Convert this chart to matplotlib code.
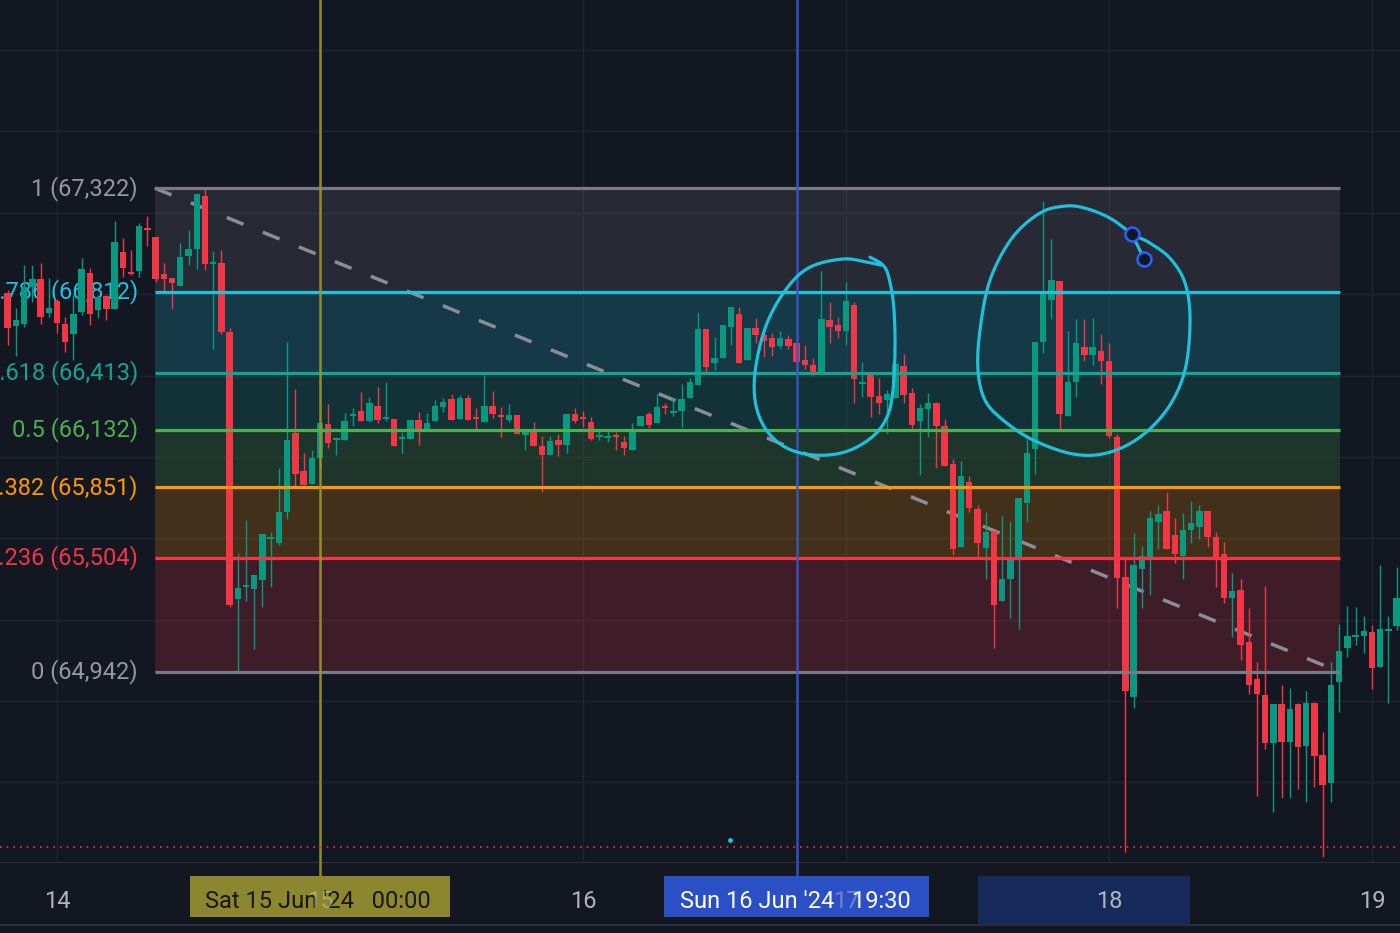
import matplotlib.pyplot as plt
import matplotlib.transforms as mtransforms
from matplotlib.patches import Rectangle
import numpy as np

plt.rcParams['font.family'] = ['Roboto', 'DejaVu Sans']

# 45 min candles, index 0 = Fri 14 Jun 00:00 (32 candles per day)
start_idx = -6
opens = [66805, 66643, 66653, 66835, 66874, 66707, 66766, 66653, 66604, 66712,
         66903, 66722, 66791, 66727, 67007, 66908, 66913, 67120, 67081, 66899,
         66879, 66840, 66988, 67022, 67282, 66948, 66953, 66614, 65301, 65360,
         65350, 65395, 65596, 65576, 65729, 66117, 65930, 65866, 65994, 66161,
         66083, 66083, 66201, 66225, 66176, 66250, 66186, 66186, 66088, 66088,
         66181, 66137, 66176, 66245, 66284, 66186, 66289, 66191, 66171, 66250,
         66201, 66181, 66206, 66107, 66127, 66053, 66009, 66083, 66058, 66211,
         66191, 66171, 66098, 66093, 66102, 66073, 66034, 66151, 66211, 66166,
         66250, 66215, 66225, 66289, 66353, 66629, 66462, 66486, 66638, 66702,
         66476, 66634, 66599, 66584, 66545, 66579, 66560, 66476, 66451, 66412,
         66673, 66648, 66619, 66746, 66358, 66412, 66299, 66279, 66289, 66446,
         66314, 66176, 66235, 66265, 66151, 65965, 65557, 65876, 65744, 65552,
         65635, 65291, 65400, 65503, 65773, 66039, 66564, 66771, 66864, 66201,
         66368, 66540, 66500, 66520, 66471, 66098, 65409, 64819, 65449, 65498,
         65680, 65734, 65616, 65513, 65640, 65655, 65734, 65606, 65522, 65306,
         65345, 65090, 64908, 64829, 64593, 64785, 64598, 64785, 64579, 64790,
         64534, 64396, 64893, 65060, 65114, 65119, 65139, 64967, 65144, 65168]
highs = [66820, 66732, 66943, 66943, 66953, 66879, 66776, 66688, 66795, 66978,
         66928, 66795, 66795, 67159, 67076, 67017, 67149, 67184, 67081, 66953,
         66879, 67051, 67115, 67292, 67322, 67012, 67017, 66634, 65527, 65690,
         65419, 65620, 65630, 65945, 66564, 66334, 66019, 66034, 66166, 66260,
         66098, 66215, 66240, 66319, 66294, 66344, 66368, 66186, 66122, 66181,
         66220, 66215, 66279, 66289, 66309, 66304, 66304, 66240, 66402, 66324,
         66245, 66260, 66206, 66132, 66171, 66102, 66102, 66112, 66211, 66240,
         66225, 66196, 66137, 66137, 66122, 66102, 66166, 66201, 66220, 66309,
         66265, 66289, 66358, 66388, 66712, 66629, 66589, 66648, 66736, 66736,
         66634, 66683, 66609, 66609, 66619, 66599, 66560, 66550, 66486, 66913,
         66761, 66688, 66859, 66761, 66466, 66412, 66388, 66329, 66456, 66505,
         66339, 66260, 66314, 66270, 66186, 65990, 65980, 65906, 65764, 65729,
         65635, 65710, 65685, 65798, 66088, 66564, 67258, 67071, 66864, 66619,
         66678, 66678, 66683, 66604, 66560, 66112, 65513, 65625, 65562, 65734,
         65764, 65827, 65700, 65724, 65783, 65764, 65734, 65630, 65581, 65429,
         65400, 65257, 64991, 65365, 64785, 64878, 64864, 64790, 64849, 64795,
         64647, 64991, 65178, 65267, 65262, 65218, 65173, 65468, 65218, 65458]
lows = [66549, 66495, 66639, 66761, 66653, 66688, 66609, 66515, 66476, 66697,
        66648, 66683, 66673, 66727, 66884, 66894, 66884, 67036, 66859, 66805,
        66727, 66840, 66943, 66923, 66918, 66530, 66604, 65262, 64942, 65291,
        65055, 65262, 65360, 65567, 65695, 65857, 65861, 65866, 65935, 66044,
        66009, 66083, 66151, 66176, 66171, 66166, 66176, 66053, 66019, 66088,
        66058, 66137, 66176, 66220, 66181, 66186, 66181, 66132, 66171, 66191,
        66098, 66171, 66112, 66034, 66053, 65827, 66009, 66004, 66019, 66166,
        66147, 66083, 66083, 66073, 66034, 66009, 66034, 66151, 66142, 66166,
        66211, 66201, 66147, 66289, 66353, 66417, 66427, 66486, 66549, 66462,
        66476, 66560, 66490, 66495, 66530, 66530, 66407, 66432, 66397, 66412,
        66560, 66584, 66549, 66265, 66294, 66196, 66211, 66117, 66289, 66265,
        66132, 65911, 66098, 65945, 65955, 65517, 65557, 65729, 65503, 65400,
        65060, 65291, 65208, 65154, 65680, 65916, 66510, 66678, 66137, 66201,
        66294, 66471, 66451, 66358, 66093, 65257, 64057, 64765, 65257, 65321,
        65547, 65547, 65478, 65400, 65576, 65596, 65557, 65360, 65281, 65114,
        65001, 64834, 64332, 64564, 64254, 64323, 64323, 64367, 64303, 64377,
        64033, 64303, 64745, 65016, 65075, 65035, 64859, 64967, 64790, 65149]
closes = [66634, 66673, 66835, 66874, 66688, 66732, 66658, 66564, 66702, 66923,
          66702, 66786, 66727, 67056, 66928, 66899, 67135, 67115, 66874, 66874,
          66854, 66983, 67022, 67292, 66948, 66953, 66614, 65272, 65355, 65370,
          65419, 65620, 65606, 65729, 66083, 65916, 65861, 65994, 66166, 66068,
          66093, 66176, 66211, 66176, 66265, 66181, 66191, 66053, 66098, 66181,
          66122, 66166, 66250, 66270, 66181, 66289, 66181, 66186, 66250, 66211,
          66196, 66206, 66112, 66132, 66053, 66009, 66078, 66058, 66211, 66176,
          66186, 66088, 66102, 66098, 66098, 66044, 66137, 66201, 66156, 66245,
          66240, 66225, 66284, 66368, 66629, 66442, 66486, 66648, 66736, 66462,
          66634, 66599, 66569, 66540, 66584, 66545, 66466, 66451, 66412, 66678,
          66639, 66619, 66766, 66383, 66368, 66294, 66265, 66309, 66456, 66304,
          66156, 66240, 66265, 66151, 65955, 65547, 65906, 65749, 65576, 65630,
          65272, 65400, 65503, 65798, 66019, 66564, 66800, 66869, 66211, 66368,
          66560, 66500, 66540, 66471, 66102, 65404, 64849, 65468, 65513, 65700,
          65719, 65547, 65522, 65640, 65675, 65734, 65606, 65503, 65306, 65340,
          65075, 64878, 64834, 64593, 64785, 64598, 64760, 64574, 64790, 64529,
          64386, 64878, 65045, 65119, 65119, 65144, 64962, 65154, 65149, 65306]

# fib retracement drawing
fib_high = 67321.6
fib_low = 64942.4
fib_start, fib_end = 11.9, 156.1
fib_levels = [1, 0.786, 0.618, 0.5, 0.382, 0.236, 0]
fib_colors = ['#787b86', '#1ec3dc', '#17a38f', '#4caf50', '#ff9800', '#f23645', '#787b86']

# time axis
day_labels = ['14', '15', '16', '17', '18', '19']
day_idx = [0, 32, 64, 96, 128, 160]
marker_idx = [32, 90]
marker_text = ["Sat 15 Jun '24   00:00", "Sun 16 Jun '24   19:30"]

low_line = 64081
dot_x, dot_y = 81.9, 64116

# hand drawn circles (candle index, price)
circ1_x = [98.92, 100.62, 101.35, 101.84, 101.96, 101.72, 100.99, 99.16, 95.88, 91.98,
           88.58, 86.14, 84.93, 85.05, 86.39, 88.82, 91.62, 95.64, 98.44, 100.26]
circ1_y = [66982, 66938, 66859, 66722, 66525, 66329, 66196, 66097, 66024, 66009,
           66048, 66142, 66279, 66451, 66658, 66830, 66933, 66973, 66958, 66943]
circ2_x = [130.80, 128.12, 125.08, 122.65, 119.61, 116.20, 113.52, 112.30, 112.06, 112.91,
           115.10, 118.75, 123.62, 127.76, 131.77, 135.18, 137.25, 137.86, 137.25, 135.42,
           132.99, 131.77]
circ2_y = [67095, 67174, 67223, 67233, 67199, 67076, 66869, 66623, 66427, 66279,
           66181, 66083, 66014, 66019, 66097, 66240, 66427, 66673, 66855, 66977,
           67051, 67076]
handle_x = [130.80, 132.26]
handle_y = [67095, 66973]


def catmull(xs, ys, n=16):
    p = np.column_stack([xs, ys]).astype(float)
    p = np.vstack([p[0], p, p[-1]])
    out = []
    t = np.linspace(0, 1, n, endpoint=False)[:, None]
    for k in range(1, len(p) - 2):
        p0, p1, p2, p3 = p[k - 1], p[k], p[k + 1], p[k + 2]
        out.append(0.5 * (2 * p1 + (-p0 + p2) * t + (2 * p0 - 5 * p1 + 4 * p2 - p3) * t ** 2
                          + (-p0 + 3 * p1 - 3 * p2 + p3) * t ** 3))
    out.append(p[-2][None])
    pts = np.vstack(out)
    return pts[:, 0], pts[:, 1]


bg = '#131722'
up, down = '#089981', '#f23645'

fig = plt.figure(figsize=(14, 9.33), dpi=100)
fig.patch.set_facecolor(bg)
ax = fig.add_axes([0, 1 - 862 / 933, 1, 862 / 933])
ax.set_facecolor(bg)
for s in ax.spines.values():
    s.set_visible(False)
ax.spines['bottom'].set_visible(True)
ax.spines['bottom'].set_color('#2a2e39')
ax.set_yticks(np.arange(64000, 68401, 400))
ax.set_xticks(day_idx)
ax.grid(color='#1f232e', lw=1, zorder=0)
ax.tick_params(length=0, labelbottom=False, labelleft=False)
ax.set_axisbelow(True)

# fib zones, lines and labels
fib_prices = [fib_low + l * (fib_high - fib_low) for l in fib_levels]
for k in range(len(fib_levels) - 1):
    ax.fill_between([fib_start, fib_end], fib_prices[k + 1], fib_prices[k],
                    color=fib_colors[k], alpha=0.2, lw=0, zorder=1)
for l, p, c in zip(fib_levels, fib_prices, fib_colors):
    ax.plot([fib_start, fib_end], [p, p], color=c, lw=2.3, zorder=4, solid_capstyle='butt')
    ax.text(fib_start - 2.06, p, f"{l:g} ({round(p):,})", color=c if c != '#787b86' else '#9598a1',
            fontsize=17, ha='right', va='center', zorder=1.5)

ax.plot([fib_start, fib_end], [fib_high, fib_low], color='#8a8d96', lw=2.5,
        dashes=(5.2, 6.0), zorder=2)

# candles
idx = np.arange(start_idx, start_idx + len(opens))
o = np.array(opens); h = np.array(highs); l = np.array(lows); c = np.array(closes)
cols = np.where(c >= o, up, down)
ax.vlines(idx, l, h, colors=cols, lw=1.0, zorder=3)
body = np.maximum(np.abs(c - o), 8)
ax.bar(idx, body, bottom=np.minimum(o, c), width=0.78, color=cols, lw=0, zorder=3.1)

# crosshair-style vertical lines and time axis
bt = mtransforms.blended_transform_factory(ax.transData, fig.transFigure)
vline_cols = ['#9c962e', '#3557cf']
box_cols = ['#8c862f', '#2b50c6']
txt_cols = ['#15160c', 'white']
half_w = [15.76, 16.1]
for xi, lc in zip(marker_idx, vline_cols):
    ax.plot([xi, xi], [1 - 876 / 933, 1], color=lc, lw=1.8, transform=bt, clip_on=False,
            zorder=4, alpha=0.9)

# selected range on time axis (extent of second circle)
r0, r1 = min(circ2_x), max(circ2_x)
fig.patches.append(Rectangle((r0, 1 - 925 / 933), r1 - r0, 49 / 933, transform=bt,
                             facecolor='#172a5c', lw=0, zorder=1))
for lab, xi in zip(day_labels, day_idx):
    hidden = any(abs(xi - m) < 17 for m in marker_idx)
    if not hidden:
        fig.text(xi, 1 - 901 / 933, lab, transform=bt, color='#b2b5be', fontsize=17,
                 ha='center', va='center', zorder=3)

for xi, t, bc, tc, hw in zip(marker_idx, marker_text, box_cols, txt_cols, half_w):
    fig.patches.append(Rectangle((xi - hw, 1 - 917 / 933), 2 * hw, 41 / 933, transform=bt,
                                 facecolor=bc, lw=0, zorder=2))
    fig.text(xi - 0.2, 1 - 901 / 933, t, transform=bt, color=tc, fontsize=17,
             ha='center', va='center', zorder=3)
for lab, xi in zip(day_labels, day_idx):
    if any(abs(xi - m) < 17 for m in marker_idx):
        fig.text(xi, 1 - 901 / 933, lab, transform=bt, color='#e6e8f0', fontsize=17,
                 ha='center', va='center', zorder=4, alpha=0.35)

fig.add_artist(plt.Line2D([0, 1], [1 - 925 / 933] * 2, color='#2a2e39', lw=1.5))

# low price dotted line
ax.axhline(low_line, color='#f23645', lw=1.2, ls=(0, (1, 3)), zorder=4)
ax.plot(dot_x, dot_y, 'o', color='#1ec3dc', ms=2.5, zorder=4)

# hand drawn circles
cx, cy = catmull(circ1_x, circ1_y)
ax.plot(cx, cy, color='#1ec0dc', lw=2.3, zorder=6, solid_capstyle='round')
cx, cy = catmull(circ2_x, circ2_y)
ax.plot(cx, cy, color='#1ec0dc', lw=2.3, zorder=6, solid_capstyle='round')
ax.plot(handle_x, handle_y, color='#1ec0dc', lw=2.3, zorder=6)
ax.plot(handle_x, handle_y, 'o', ms=10, mfc='#131722', mec='#2962ff', mew=1.8, zorder=7)

# limits last, set_yticks would otherwise widen them
ax.set_xlim(-57 / 8.21875, 1343 / 8.21875)
ax.set_ylim(64007.7, 68246.5)

fig.savefig('out.png', dpi=100, facecolor=bg)
